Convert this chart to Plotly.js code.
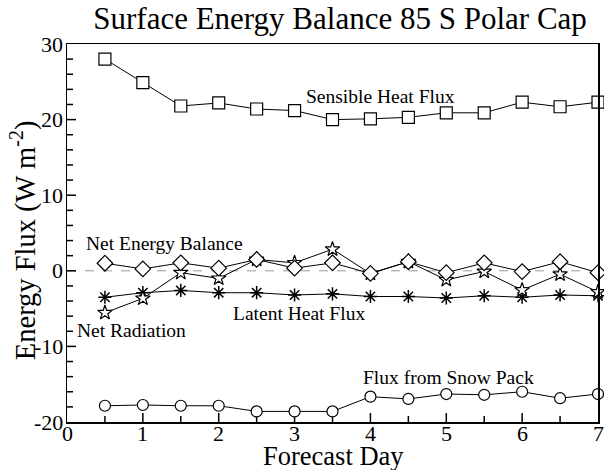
<!DOCTYPE html>
<html>
<head>
<meta charset="utf-8">
<script src="https://cdn.plot.ly/plotly-3.0.1.min.js"></script>
<style>html,body{margin:0;padding:0;background:#fff;}#chart{width:604px;height:470px;}</style>
</head>
<body>
<div id="chart"></div>
<script>
var days = [0.5, 1, 1.5, 2, 2.5, 3, 3.5, 4, 4.5, 5, 5.5, 6, 6.5, 7];
var sensibleHeat = [28.0, 24.9, 21.8, 22.2, 21.4, 21.2, 20.0, 20.1, 20.3, 20.9, 20.9, 22.3, 21.7, 22.3];
var netEnergyBalance = [1.0, 0.25, 1.05, 0.35, 1.5, 0.35, 1.05, -0.35, 1.2, -0.25, 1.05, -0.1, 1.2, -0.25];
var netRadiation = [-5.55, -3.65, -0.25, -1.0, 1.5, 1.05, 2.85, -0.35, 1.2, -1.2, -0.1, -2.55, -0.45, -2.8];
var latentHeat = [-3.5, -2.9, -2.6, -2.9, -2.9, -3.2, -3.05, -3.4, -3.4, -3.6, -3.3, -3.5, -3.2, -3.3];
var snowPack = [-17.85, -17.75, -17.85, -17.85, -18.6, -18.6, -18.6, -16.65, -16.95, -16.3, -16.4, -16.0, -16.85, -16.3];

var labelText = ["Sensible Heat Flux", "Net Energy Balance", "Latent Heat Flux", "Net Radiation", "Flux from Snow Pack"];
var labelX = [4.13, 1.28, 3.06, 0.85, 5.03];
var labelY = [23.06, 3.55, -5.63, -7.84, -14.1];

var xTickVals = [0, 1, 2, 3, 4, 5, 6, 7];
var xTickText = ["0", "1", "2", "3", "4", "5", "6", "7"];
var yTickVals = [-20, -10, 0, 10, 20, 30];
var yTickText = ["-20", "-10", "0", "10", "20", "30"];

var xRange = [0, 7];
var yRange = [-20, 30];
var xMajor = 1, xMinor = 0.5;
var yMajor = 10, yMinor = 2;

var serif = "Liberation Serif, Times New Roman, serif";
var plotW = 604 - 67 - 6, plotH = 470 - 44 - 48;

function series(y, symbol, size) {
  return {
    x: days, y: y, type: 'scatter', mode: 'lines+markers',
    line: {color: '#000', width: 1},
    marker: {symbol: symbol, size: size, color: '#fff', line: {color: '#000', width: 1.2}},
    showlegend: false, hoverinfo: 'skip', cliponaxis: false
  };
}

var latent = series(latentHeat, 'asterisk-open', 11);
latent.marker.color = '#000';
latent.marker.line.width = 1.5;

// inside tick marks as one line trace (derived from axis ranges; px lengths converted to data units)
var xPerPx = (xRange[1] - xRange[0]) / plotW, yPerPx = (yRange[1] - yRange[0]) / plotH;
var tickX = [], tickY = [];
var v, major;
for (v = xRange[0] + xMinor; v < xRange[1] - 1e-9; v += xMinor) {
  major = Math.abs(v / xMajor - Math.round(v / xMajor)) < 1e-9;
  tickX.push(v, v, null);
  tickY.push(yRange[0], yRange[0] + (major ? 9 : 6) * yPerPx, null);
}
for (v = yRange[0] + yMinor; v < yRange[1] - 1e-9; v += yMinor) {
  major = Math.abs(v / yMajor - Math.round(v / yMajor)) < 1e-9;
  tickX.push(xRange[0], xRange[0] + (major ? 9 : 6) * xPerPx, null);
  tickY.push(v, v, null);
}

var traces = [
  {x: [xRange[0], xRange[1]], y: [0, 0], type: 'scatter', mode: 'lines',
    line: {color: '#999', width: 1, dash: 'dash'}, showlegend: false, hoverinfo: 'skip'},
  {x: tickX, y: tickY, type: 'scatter', mode: 'lines', connectgaps: false,
    line: {color: '#000', width: 1.5}, showlegend: false, hoverinfo: 'skip'},
  series(sensibleHeat, 'square', 12),
  latent,
  series(netRadiation, 'star', 11),
  series(netEnergyBalance, 'diamond', 12),
  series(snowPack, 'circle', 11)
];

var annotations = labelText.map(function (t, i) {
  return {x: labelX[i], y: labelY[i], xref: 'x', yref: 'y', text: t, showarrow: false,
    font: {family: serif, size: 19.5, color: '#000'}, xanchor: 'center', yanchor: 'middle'};
});
xTickVals.forEach(function (v, i) {
  annotations.push({x: v, y: -11.5 / plotH, xref: 'x', yref: 'paper', text: xTickText[i], showarrow: false,
    font: {family: serif, size: 22, color: '#000'}, xanchor: 'center', yanchor: 'middle', borderpad: 0});
});
yTickVals.forEach(function (v, i) {
  annotations.push({x: -3 / plotW, y: v, xref: 'paper', yref: 'y', text: yTickText[i], showarrow: false,
    font: {family: serif, size: 22, color: '#000'}, xanchor: 'right', yanchor: 'middle', borderpad: 0});
});
annotations.push({x: 0.501, y: -34 / plotH, xref: 'paper', yref: 'paper', text: 'Forecast Day', showarrow: false,
  font: {family: serif, size: 26.5, color: '#000'}, xanchor: 'center', yanchor: 'middle', borderpad: 0});
annotations.push({x: -44 / plotW, y: 0.481, xref: 'paper', yref: 'paper', text: 'Energy Flux (W m<sup>-2</sup>)', showarrow: false,
  textangle: -90, font: {family: serif, size: 28.5, color: '#000'}, xanchor: 'center', yanchor: 'middle'});

var axisCommon = {
  ticks: '', showline: true, linecolor: '#000', linewidth: 1.5, mirror: true,
  showgrid: false, zeroline: false, showticklabels: false
};

var layout = {
  width: 604, height: 470,
  margin: {l: 67, r: 6, t: 44, b: 48},
  paper_bgcolor: '#fff', plot_bgcolor: '#fff',
  font: {family: serif, color: '#000'},
  title: {text: 'Surface Energy Balance 85 S Polar Cap', font: {family: serif, size: 31, color: '#000'},
    x: 0.563, xanchor: 'center', y: 0.962, yanchor: 'middle', yref: 'container'},
  xaxis: Object.assign({}, axisCommon, {range: xRange}),
  yaxis: Object.assign({}, axisCommon, {range: yRange}),
  annotations: annotations
};

Plotly.newPlot('chart', traces, layout, {displayModeBar: false, staticPlot: true});
</script>
</body>
</html>
